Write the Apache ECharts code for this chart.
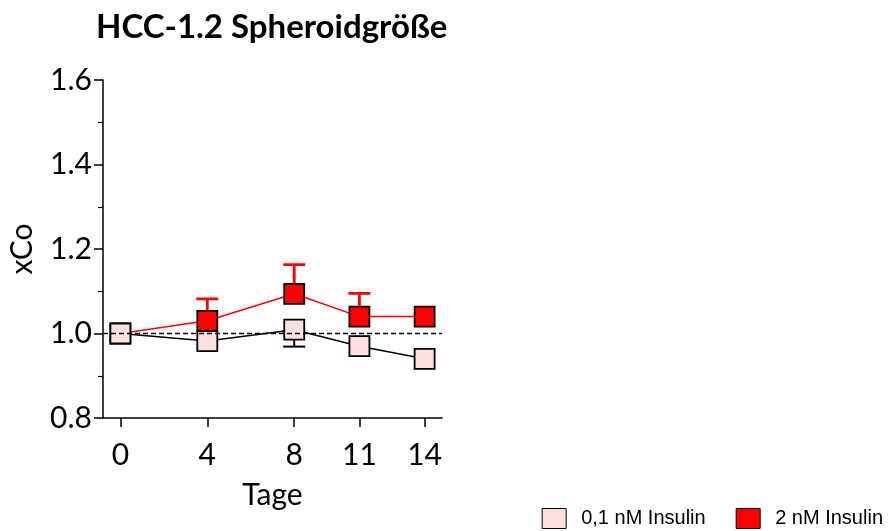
<!DOCTYPE html>
<html><head><meta charset="utf-8">
<script src="https://cdn.jsdelivr.net/npm/echarts@6/dist/echarts.min.js"></script>
<style>html,body{margin:0;padding:0;background:#fff}#c{width:892px;height:531px}</style>
</head><body><div id="c"></div>
<script>
const days = [0, 4, 8, 11, 14];
const tickLabels = [0, 4, 8, 11, 14];
const lowMean = [1.0, 0.982, 1.009, 0.970, 0.940];
const lowErr = [0, 0, -0.040, 0, 0];
const highMean = [1.0, 1.030, 1.094, 1.040, 1.040];
const highErr = [0, 0.052, 0.069, 0.055, 0];
const seriesNames = ['0,1 nM Insulin', '2 nM Insulin'];
const fills = ['#FFE0E0', '#FF0000'];
const lineColors = ['#000000', '#FF0000'];

const font = 'Lato, "Open Sans", sans-serif';
function errBars(color, width) {
  return function (params, api) {
    const x = api.value(0), y = api.value(1), e = api.value(2);
    if (!e) return null;
    const p0 = api.coord([x, y]), p1 = api.coord([x, y + e]);
    const hw = 11;
    return {
      type: 'group', children: [
        { type: 'line', shape: { x1: p0[0], y1: p0[1], x2: p1[0], y2: p1[1] }, style: { stroke: color, lineWidth: width } },
        { type: 'line', shape: { x1: p1[0] - hw, y1: p1[1], x2: p1[0] + hw, y2: p1[1] }, style: { stroke: color, lineWidth: width } }
      ]
    };
  };
}
const chart = echarts.init(document.getElementById('c'));
chart.setOption({
  animation: false,
  title: { text: 'HCC-1.2 Spheroidgröße', left: 91, top: 6, textStyle: { fontFamily: font, fontWeight: 'bold', fontSize: 33, color: '#000' } },
  legend: {
    right: 4, bottom: -3, itemWidth: 24, itemHeight: 20, itemGap: 30,
    textStyle: { fontFamily: 'Liberation Sans, Arial, sans-serif', fontSize: 20, color: '#000', padding: [0, 0, 0, 10] },
    data: seriesNames.map((n, i) => ({ name: n, icon: 'rect', itemStyle: { color: fills[i], borderColor: '#000', borderWidth: 1 } }))
  },
  grid: { left: 103, right: 450, top: 80, bottom: 113, containLabel: false },
  xAxis: {
    type: 'value', min: -0.8, max: 14.8,
    name: 'Tage', nameLocation: 'middle', nameGap: 62,
    nameTextStyle: { fontFamily: font, fontSize: 30, color: '#000' },
    axisLine: { onZero: false, lineStyle: { color: '#000', width: 1.5 } },
    axisTick: { show: true, length: 9, customValues: days, lineStyle: { color: '#000', width: 1.5 } },
    axisLabel: { customValues: tickLabels, margin: 22, fontFamily: font, fontSize: 30, color: '#000' },
    splitLine: { show: false }
  },
  yAxis: {
    type: 'value', min: 0.8, max: 1.6, interval: 0.2,
    name: 'xCo', nameLocation: 'middle', nameGap: 66,
    nameTextStyle: { fontFamily: font, fontSize: 30, color: '#000' },
    axisLine: { show: true, onZero: false, lineStyle: { color: '#000', width: 1.5 } },
    axisTick: { show: true, length: 9, lineStyle: { color: '#000', width: 1.5 } },
    minorTick: { show: true, splitNumber: 2, length: 5, lineStyle: { color: '#000', width: 1.2 } },
    axisLabel: { margin: 11, fontFamily: font, fontSize: 30, color: '#000', formatter: v => v.toFixed(1) },
    splitLine: { show: false }
  },
  series: [
    { type: 'custom', name: seriesNames[1] + ' err', renderItem: errBars('#FF0000', 2.8), data: days.map((d, i) => [d, highMean[i], highErr[i]]), z: 1, silent: true },
    {
      type: 'line', name: seriesNames[1], data: days.map((d, i) => [d, highMean[i]]), z: 2,
      symbol: 'rect', symbolSize: 20, lineStyle: { color: lineColors[1], width: 1.5 },
      itemStyle: { color: fills[1], borderColor: '#000', borderWidth: 1.8 },
      markLine: { silent: true, symbol: 'none', label: { show: false }, lineStyle: { color: '#000', type: [5, 3], width: 1.3 }, data: [{ yAxis: 1.0 }] }
    },
    { type: 'custom', name: seriesNames[0] + ' err', renderItem: errBars('#000000', 2), data: days.map((d, i) => [d, lowMean[i], lowErr[i]]), z: 3, silent: true },
    {
      type: 'line', name: seriesNames[0], data: days.map((d, i) => [d, lowMean[i]]), z: 4,
      symbol: 'rect', symbolSize: 20, lineStyle: { color: lineColors[0], width: 1.5 },
      itemStyle: { color: fills[0], borderColor: '#000', borderWidth: 1.8 }
    }
  ]
});
</script></body></html>
